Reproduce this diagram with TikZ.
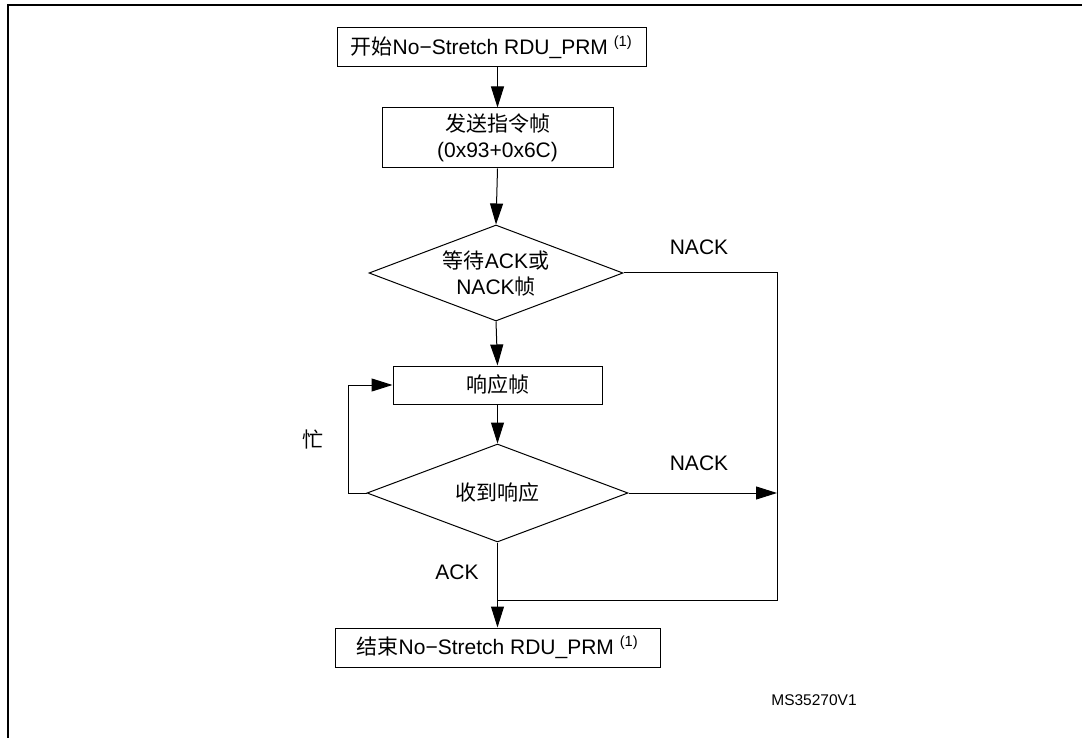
\documentclass[tikz,border=0pt]{standalone}
\usepackage{fontspec}
\setmainfont{Liberation Sans}
\newfontfamily\cjk{Noto Sans CJK SC}
\newcommand{\zh}[1]{{\cjk #1}}
\usetikzlibrary{shapes.geometric,arrows.meta}

\begin{document}
\begin{tikzpicture}[x=1pt,y=-1pt,
    every node/.style={font=\fontsize{21}{26}\selectfont},
    box/.style={draw,line width=1pt,inner sep=0pt,minimum height=39pt},
    decide/.style={draw,line width=1pt,diamond,inner sep=0pt,aspect=2.6,align=center},
    flow/.style={line width=1pt,-{Triangle[length=21pt,width=13pt]}},
    wire/.style={line width=1pt}]
        \useasboundingbox (0,0) rectangle (1082,738);
        \draw[line width=2pt] (8,738) -- (8,5) -- (1082,5);

        \node[box,minimum width=309pt] (start) at (491.5,47.5) {\zh{开始}No−Stretch RDU\_PRM \textsuperscript{(1)}};
        \node[box,minimum width=231pt,minimum height=60pt,align=center] (send) at (497.5,138) {\zh{发送指令帧}\\(0x93+0x6C)};
        \node[decide,minimum width=254pt,minimum height=96pt] (wait) at (496,273) {\zh{等待}ACK\zh{或}\\NACK\zh{帧}};
        \node[box,minimum width=209pt,minimum height=38pt] (resp) at (497.5,385) {\zh{响应帧}};
        \node[decide,minimum width=261pt,minimum height=98pt] (recv) at (497.5,493) {\zh{收到响应}};
        \node[box,minimum width=325pt] (end) at (497.5,647.5) {\zh{结束}No−Stretch RDU\_PRM \textsuperscript{(1)}};

        \coordinate (rightc) at (777,600);
        \coordinate (joinc) at (497.5,600);

        \draw[flow] (start.south -| send.north) -- (send.north);
        \draw[flow] (send.south) -- (wait.north);
        \draw[flow] (wait.south) -- (resp.north);
        \draw[flow] (resp.south) -- (recv.north);
        \draw[flow] (recv.south) -- (end.north);
        \draw[wire] (wait.east) -| (rightc) -- (joinc);
        \draw[flow] (recv.east) -- (recv.east -| rightc);
        \draw[flow] (recv.west) -- ++(-18,0) |- (resp.west);

        \node (nack1) at (699,247) {NACK};
        \node (nack2) at (699,463) {NACK};
        \node (busy) at (313,440) {\zh{忙}};
        \node (ack) at (457,572) {ACK};
        \node[font=\fontsize{15.5}{18}\selectfont] (code) at (814,700) {MS35270V1};
    \end{tikzpicture}
\end{document}
